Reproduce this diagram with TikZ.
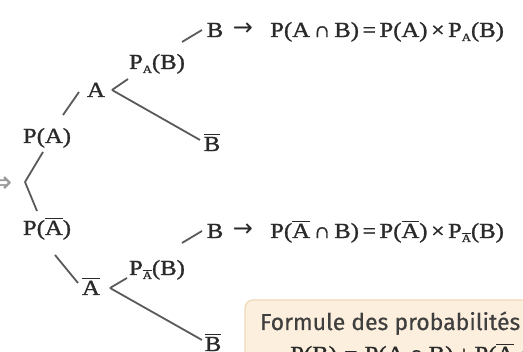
\documentclass[tikz,border=0pt]{standalone}
\usepackage{fontspec}
\setmainfont{Liberation Serif}[FakeStretch=1.15, FakeBold=1.3]
\newfontfamily\boxfont{Fira Sans}[FakeBold=0.5]
\newfontfamily\symf{Liberation Serif}[FakeStretch=1.1, FakeBold=1.3]
\newfontfamily\djv{DejaVu Sans}
\definecolor{ink}{HTML}{2A2A2A}
\definecolor{edge}{HTML}{5A5A5A}
\definecolor{boxfill}{HTML}{FCEFDD}
\definecolor{boxline}{HTML}{EFD8BA}
\definecolor{faint}{HTML}{9A9A9A}
\newcommand\ob[1]{\setbox0\hbox{#1}\rlap{\raisebox{0.76em}{\rule{\wd0}{0.05em}}}\box0}
\newcommand\sbA{\raisebox{-0.4ex}{\fontsize{11}{11}\selectfont A}}
\newcommand\sbAb{\raisebox{-0.4ex}{\fontsize{11}{11}\selectfont\ob{A}}}
\newcommand\capp{\,{\symf ∩}\,}
\newcommand\tms{\,{\symf ×}\,}
\newcommand\eqq{\,{\symf =}\,}
\begin{document}
\begin{tikzpicture}[x=1pt,y=-1pt,
  lbl/.style={font=\fontsize{21.5}{24}\selectfont, text=ink, inner sep=0pt, anchor=base},
  frm/.style={lbl, anchor=base west},
  br/.style={draw=edge, line width=1.8pt},
  fbox/.style={draw=boxline, fill=boxfill, line width=1.2pt, rounded corners=8pt}]
\useasboundingbox (0,0) rectangle (523,352);
\clip (0,0) rectangle (523,352);
\fill[white] (0,0) rectangle (523,352);

% left arrow (cut off)
\node[lbl, text=faint, anchor=base east, font=\djv\fontsize{30}{32}\selectfont] (arr0) at (13,193) {⇒};

% tree labels
\node[lbl] (pA) at (47,143) {P(A)};
\node[lbl] (A) at (96,97) {A};
\node[lbl] (pAb) at (47,235) {P(\ob{A})};
\node[lbl] (Ab) at (91,295) {\ob{A}};
\node[lbl] (pAB) at (157,69) {P\sbA(B)};
\node[lbl] (pAbB) at (157,275) {P\sbAb(B)};
\node[lbl] (B1) at (215,37) {B};
\node[lbl] (Bb1) at (212,151) {\ob{B}};
\node[lbl] (B2) at (215,238) {B};
\node[lbl] (Bb2) at (213,351) {\ob{B}};

% arrows and formulas
\node[lbl, font=\djv\fontsize{24}{26}\selectfont] (ar1) at (243,36) {→};
\node[lbl, font=\djv\fontsize{24}{26}\selectfont] (ar2) at (243,237) {→};
\node[frm] (f1) at (270,37) {P(A\capp B)\eqq P(A)\tms P\sbA(B)};
\node[frm] (f2) at (270,238) {P(\ob{A}\capp B)\eqq P(\ob{A})\tms P\sbAb(B)};

% branch points
\coordinate (r) at (25,182);
\coordinate (rA) at (43,152);
\coordinate (pAo) at (63,115);
\coordinate (Ain) at (79,92);
\coordinate (rAb) at (37,211);
\coordinate (pAbo) at (55,255);
\coordinate (Abin) at (78,283);
\coordinate (Av) at (112,90);
\coordinate (Av1) at (128,79);
\coordinate (pABo) at (182,42);
\coordinate (B1in) at (202,30);
\coordinate (Bb1in) at (200,140);
\coordinate (Abv) at (110,288);
\coordinate (Abv1) at (127,278);
\coordinate (pAbBo) at (182,243);
\coordinate (B2in) at (202,231);
\coordinate (Bb2in) at (202,340);

\draw[br] (r) -- (rA);
\draw[br] (pAo) -- (Ain);
\draw[br] (r) -- (rAb);
\draw[br] (pAbo) -- (Abin);
\draw[br] (Av) -- (Av1);
\draw[br] (pABo) -- (B1in);
\draw[br] (Av) -- (Bb1in);
\draw[br] (Abv) -- (Abv1);
\draw[br] (pAbBo) -- (B2in);
\draw[br] (Abv) -- (Bb2in);

% formula box
\draw[fbox] (245,300) rectangle (560,400);
\node[anchor=base west, inner sep=0pt, text=ink!90, font=\boxfont\fontsize{23}{26}\selectfont] (ft) at (260,330) {Formule des probabilités};
\node[frm] (f3) at (290,361) {P(B)\,\eqq\,P(A\capp B)\,+\,P(\ob{A}\capp B)};
\end{tikzpicture}
\end{document}
